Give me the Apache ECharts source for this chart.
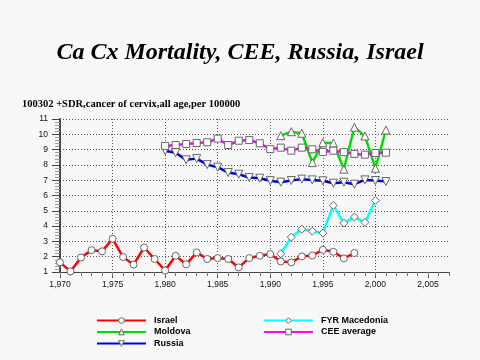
<!DOCTYPE html>
<html><head><meta charset="utf-8">
<script src="https://cdn.jsdelivr.net/npm/echarts@6/dist/echarts.min.js"></script>
<style>html,body{margin:0;padding:0;background:#f8f8f8}#c{width:480px;height:360px}</style>
</head><body><div id="c"></div>
<script>
const titleText = 'Ca Cx Mortality, CEE, Russia, Israel';
const subtitleText = '100302 +SDR,cancer of cervix,all age,per 100000';

const israelYears = [1970,1971,1972,1973,1974,1975,1976,1977,1978,1979,1980,1981,1982,1983,1984,1985,1986,1987,1988,1989,1990,1991,1992,1993,1994,1995,1996,1997,1998];
const israel = [1.63,1.04,1.95,2.43,2.35,3.17,1.98,1.48,2.6,1.85,1.1,2.06,1.5,2.28,1.85,1.91,1.85,1.3,1.91,2.06,2.17,1.69,1.63,2.02,2.08,2.45,2.32,1.89,2.24];

const macedoniaYears = [1991,1992,1993,1994,1995,1996,1997,1998,1999,2000];
const macedonia = [2.19,3.28,3.8,3.67,3.54,5.35,4.2,4.59,4.24,5.67];

const moldovaYears = [1991,1992,1993,1994,1995,1996,1997,1998,1999,2000,2001];
const moldova = [9.91,10.17,10.07,8.15,9.45,9.43,7.72,10.46,9.89,7.78,10.28];

const russiaYears = [1980,1981,1982,1983,1984,1985,1986,1987,1988,1989,1990,1991,1992,1993,1994,1995,1996,1997,1998,1999,2000,2001];
const russia = [8.93,8.8,8.33,8.41,8.02,7.85,7.5,7.39,7.17,7.13,6.97,6.87,6.98,7.07,7.02,6.96,6.8,6.87,6.74,7.02,6.98,6.91];

const ceeYears = [1980,1981,1982,1983,1984,1985,1986,1987,1988,1989,1990,1991,1992,1993,1994,1995,1996,1997,1998,1999,2000,2001];
const cee = [9.24,9.3,9.37,9.43,9.48,9.72,9.3,9.58,9.63,9.41,9.03,9.13,8.93,9.13,9.02,8.85,8.93,8.83,8.72,8.67,8.78,8.8];

const xTickLabels = [1970,1975,1980,1985,1990,1995,2000,2005];

function mk(name, xs, vs, color, symbol, rotate, size) {
  return {
    name: name, type: 'line', xAxisIndex: 0, yAxisIndex: 0,
    data: xs.map((x, i) => [x, vs[i]]),
    symbol: symbol, symbolSize: size || 7, symbolRotate: rotate || 0,
    showAllSymbol: true,
    lineStyle: { color: color, width: 2.5 },
    itemStyle: { color: '#ffffff', borderColor: '#666666', borderWidth: 1 },
    emphasis: { disabled: true },
    animation: false
  };
}

const legendCommon = {
  orient: 'vertical', top: 316,
  itemWidth: 49, itemHeight: 7, itemGap: 2.5, padding: 0,
  itemStyle: { color: '#ffffff', borderColor: '#666666', borderWidth: 1 },
  textStyle: { fontFamily: 'Liberation Sans', fontWeight: 'bold', fontSize: 9, color: '#000', padding: [0, 0, 0, 3] }
};

const chart = echarts.init(document.getElementById('c'), null, { renderer: 'canvas' });
chart.setOption({
  backgroundColor: '#f8f8f8',
  animation: false,
  title: [
    { text: titleText, left: 'center', top: 36,
      textStyle: { fontFamily: 'Liberation Serif', fontStyle: 'italic', fontWeight: 'bold', fontSize: 24, color: '#000',
        textShadowColor: '#aaaaaa', textShadowOffsetX: 1.5, textShadowOffsetY: 1.5, textShadowBlur: 0 } },
    { text: subtitleText, left: 17, top: 94,
      textStyle: { fontFamily: 'Liberation Serif', fontWeight: 'bold', fontSize: 10.5, color: '#000' } }
  ],
  grid: { left: 60, right: 31, top: 119, bottom: 88, containLabel: false },
  legend: [
    Object.assign({ data: ['Israel', 'Moldova', 'Russia'], left: 96 }, legendCommon),
    Object.assign({ data: ['FYR Macedonia', 'CEE average'], left: 263 }, legendCommon)
  ],
  xAxis: [
    { type: 'value', min: 1970, max: 2007, interval: 5, position: 'bottom',
      axisLine: { show: true, lineStyle: { color: '#444', width: 1 } },
      axisTick: { show: true, length: 6, lineStyle: { color: '#444' }, customValues: xTickLabels },
      axisLabel: { fontFamily: 'Liberation Sans', fontSize: 8.5, color: '#111', margin: 8, customValues: xTickLabels },
      splitLine: { show: true, showMinLine: false, showMaxLine: false, lineStyle: { type: [1, 2], color: '#555', width: 1 } } },
    { type: 'value', min: 1970, max: 2007, interval: 1, position: 'bottom', gridIndex: 0,
      axisLine: { show: false }, axisLabel: { show: false },
      axisTick: { show: true, length: 4, lineStyle: { color: '#777' } },
      splitLine: { show: false } }
  ],
  yAxis: {
    type: 'value', min: 1, max: 11, interval: 1,
    axisLine: { show: true, lineStyle: { color: '#444', width: 2 } },
    axisTick: { show: true, length: 8, lineStyle: { color: '#444' } },
    minorTick: { show: true, splitNumber: 5, length: 5, lineStyle: { color: '#999' } },
    axisLabel: { fontFamily: 'Liberation Sans', fontSize: 8.5, color: '#111', margin: 12 },
    splitLine: { show: true, showMinLine: false, lineStyle: { type: [1, 2], color: '#555', width: 1 } }
  },
  series: [
    mk('Israel', israelYears, israel, '#ff0000', 'circle', 0, 7),
    mk('Moldova', moldovaYears, moldova, '#00dd00', 'triangle', 0, 8),
    mk('Russia', russiaYears, russia, '#0000e0', 'triangle', 180, 8),
    mk('FYR Macedonia', macedoniaYears, macedonia, '#00ffff', 'diamond', 0, 8),
    mk('CEE average', ceeYears, cee, '#ff00ff', 'rect', 0, 7)
  ]
});
</script></body></html>
